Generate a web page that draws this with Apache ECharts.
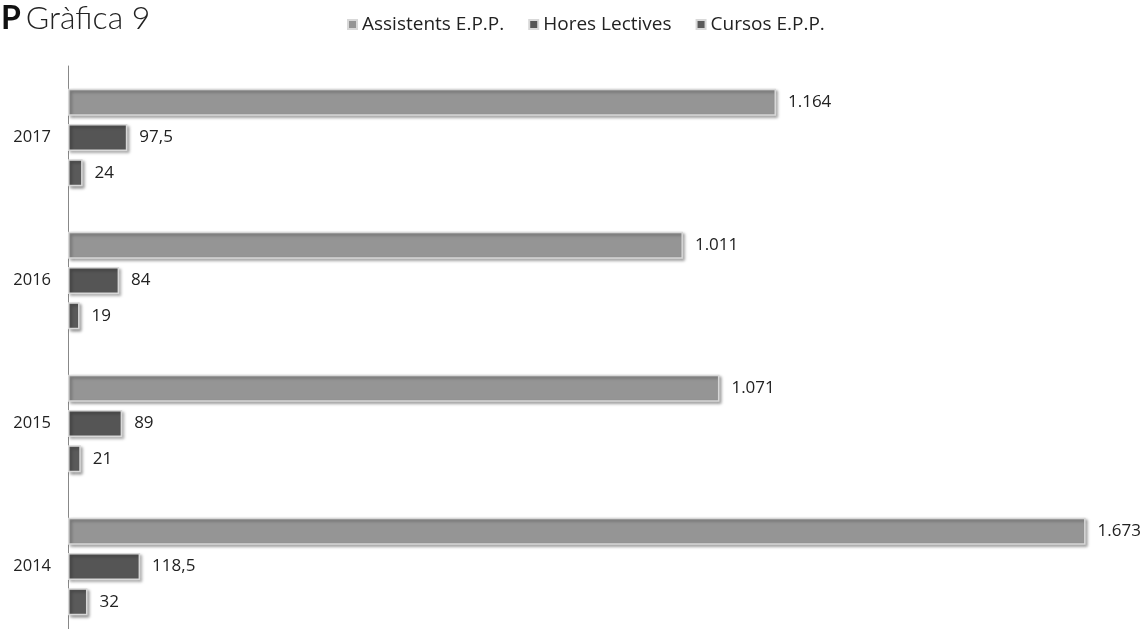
<!DOCTYPE html>
<html><head><meta charset="utf-8">
<script src="https://cdn.jsdelivr.net/npm/echarts@6/dist/echarts.min.js"></script>
<style>html,body{margin:0;padding:0;background:#fff;overflow:hidden;width:1147px;height:629px}#c{width:1147px;height:640px}</style>
</head><body><div id="c"></div>
<script>
const years = ['2014', '2015', '2016', '2017'];
const assistents = [1673, 1071, 1011, 1164];
const hores = [118.5, 89, 84, 97.5];
const cursos = [32, 21, 19, 24];
const seriesNames = ['Assistents E.P.P.', 'Hores Lectives', 'Cursos E.P.P.'];

const fmt = v => {
  const n = v.value;
  if (n >= 1000) return Math.floor(n / 1000) + '.' + String(n % 1000).padStart(3, '0');
  return String(n).replace('.', ',');
};
const FONT = '"Open Sans", Lato, "Liberation Sans", sans-serif';
function mk(name, data, color) {
  return {
    name, type: 'bar', data, barWidth: 27, barGap: '31%',
    itemStyle: { color, borderColor: '#d8d8d8', borderWidth: 1.5,
      shadowColor: 'rgba(0,0,0,0.35)', shadowBlur: 3, shadowOffsetX: 2, shadowOffsetY: 2 },
    label: { show: true, position: 'right', distance: 12, formatter: fmt,
      color: '#222', fontSize: 17, fontFamily: FONT },
    emphasis: { disabled: true }
  };
}
const chart = echarts.init(document.getElementById('c'), null, { renderer: 'canvas' });
chart.setOption({
  backgroundColor: '#fff',
  animation: false,
  title: {
    left: -4, top: -2,
    text: '{b|P} {l|Gràfica 9}',
    textStyle: { rich: {
      b: { fontFamily: 'Lato, "Open Sans", sans-serif', fontWeight: 'bold', fontSize: 32, color: '#111' },
      l: { fontFamily: 'Lato, "Open Sans", sans-serif', fontWeight: 300, fontSize: 32, color: '#222' }
    } }
  },
  legend: {
    left: 342, top: 10, itemWidth: 9, itemHeight: 9, itemGap: 24,
    data: seriesNames, icon: 'rect',
    textStyle: { fontSize: 19, color: '#222', fontFamily: FONT }
  },
  grid: { left: 68, top: 66, width: 1034, height: 572 },
  xAxis: { type: 'value', min: 0, max: 1700, show: false, splitLine: { show: false } },
  yAxis: {
    type: 'category', data: years,
    axisLine: { lineStyle: { color: '#888', width: 1 } },
    axisTick: { show: false },
    axisLabel: { color: '#222', fontSize: 16.5, margin: 17, fontFamily: FONT }
  },
  series: [
    mk(seriesNames[0], assistents, '#959595'),
    mk(seriesNames[1], hores, '#555555'),
    mk(seriesNames[2], cursos, '#5a5a5a')
  ]
});
</script></body></html>
